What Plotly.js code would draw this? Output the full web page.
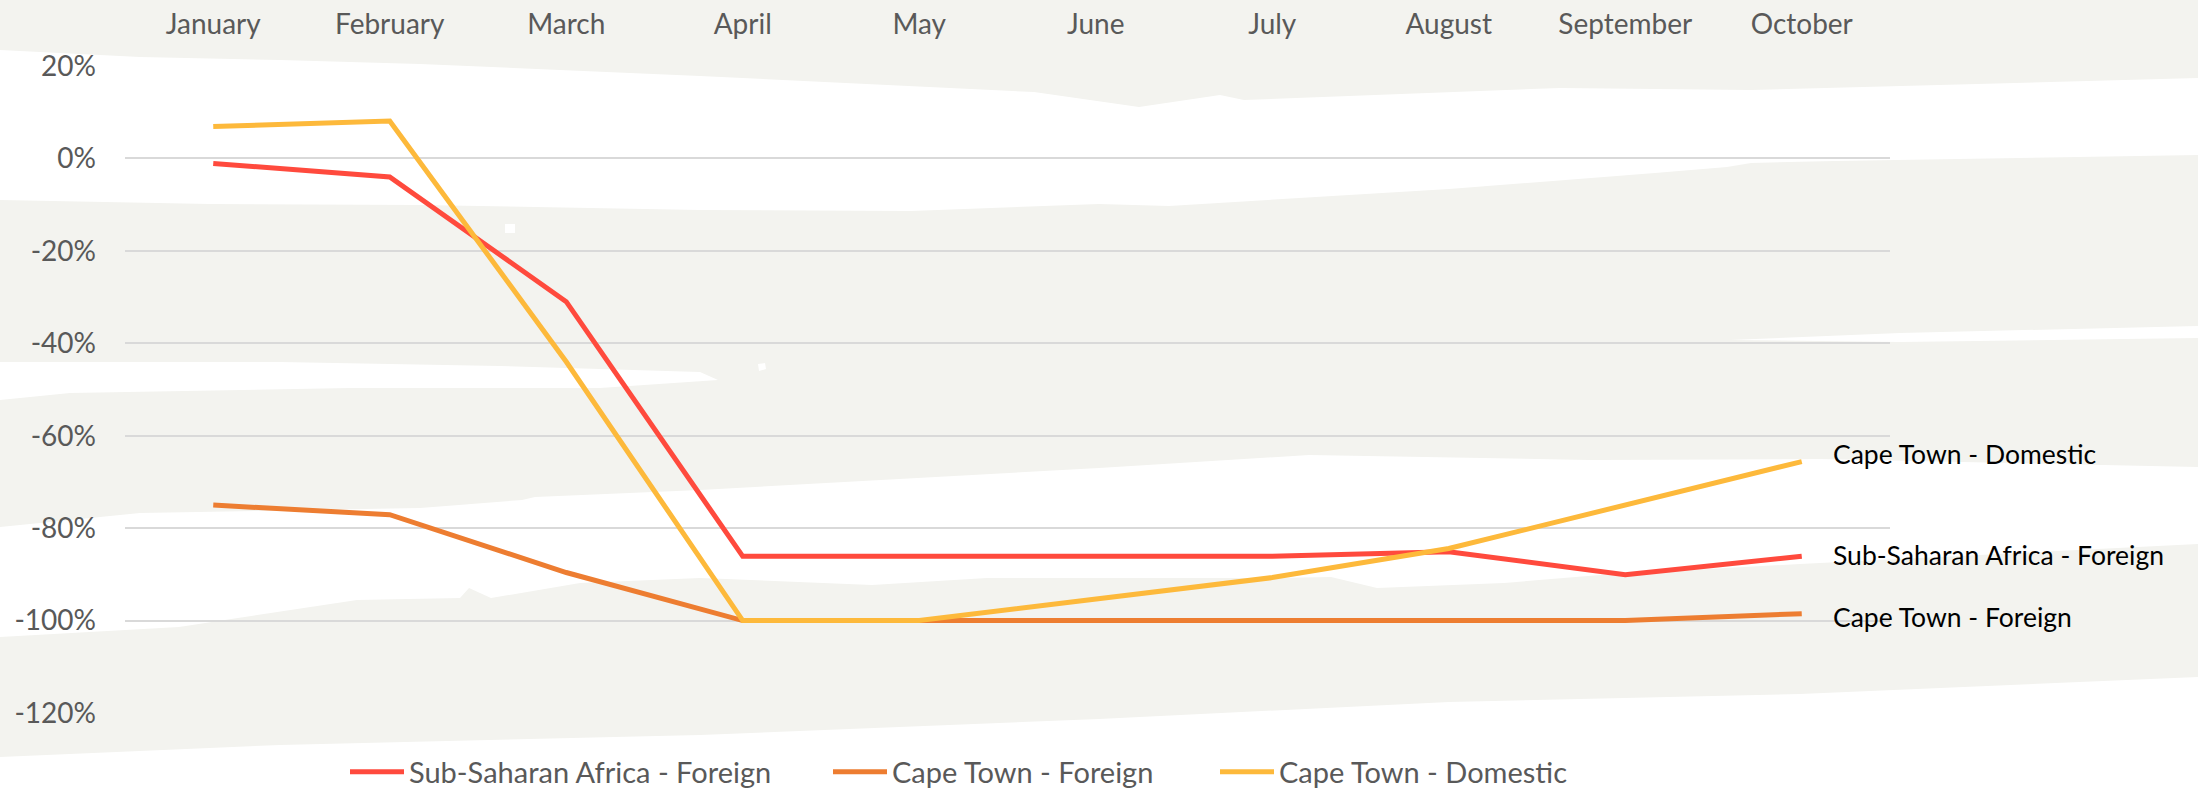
<!DOCTYPE html>
<html><head><meta charset="utf-8">
<script src="https://cdn.plot.ly/plotly-3.0.1.min.js"></script>
<style>html,body{margin:0;padding:0;background:#fff}#chart{width:2198px;height:789px}</style>
</head><body><div id="chart"></div>
<script>
// ---- data ----
const months = ['January','February','March','April','May','June','July','August','September','October'];
const ssaForeign = [-1.1, -4.0, -31.0, -86.1, -86.1, -86.1, -86.1, -85.1, -90.1, -86.1];
const ctForeign  = [-75.0, -77.1, -89.6, -100, -100, -100, -100, -100, -100, -98.5];
const ctDomestic = [6.9, 8.1, -44.0, -100, -100, -95.3, -90.7, -84.4, -75.0, -65.6];
const seriesNames = ['Sub-Saharan Africa - Foreign', 'Cape Town - Foreign', 'Cape Town - Domestic'];
const yTickVals = [20, 0, -20, -40, -60, -80, -100, -120];
const yTickText = ['20%', '0%', '-20%', '-40%', '-60%', '-80%', '-100%', '-120%'];

// ---- style ----
const W = 2198, H = 789;
const M = {l: 125, r: 308, t: 66, b: 76};
const PW = W - M.l - M.r, PH = H - M.t - M.b;
const colors = ['#FF4A3D', '#ED7D31', '#FDB93B'];
const FONT = 'Lato, "Open Sans", sans-serif';
const GRAY = '#F3F3EF';

function px2paper(pts) {
  return 'M' + pts.map(p => ((p[0] - M.l) / PW).toFixed(5) + ',' + ((H - M.b - p[1]) / PH).toFixed(5)).join('L') + 'Z';
}
// decorative brush-stroke background bands (pixel outlines)
const bandG1 = [[0,0],[2198,0],[2198,78],[1751,90],[1560,88],[1244,100],[1220,95],[1139,107],[1034,92],[700,76],[560,70],[420,64],[280,60],[140,57],[0,50]];
const bandG23 = [[0,200],[210,204],[420,205],[700,210],[911,211],[1099,204],[1169,206],[1449,189],[1655,173],[1727,167],[1751,163],[1835,161],[2198,155],
                 [2198,467],[1820,459],[1590,460],[1309,455],[1099,468],[700,490],[535,497],[522,500],[420,508],[140,513],[0,527]];
const whiteA = [[0,362],[280,362],[500,366],[700,372],[718,380],[600,388],[350,388],[70,393],[0,400]];
const whiteB = [[1730,340],[1900,333],[2198,326],[2198,338],[1900,342]];
const speck1 = [[505,224],[515,224],[515,233],[505,233]];
const speck2 = [[758,364],[765,363],[766,369],[759,371]];
const bandG4 = [[0,637],[179,627],[357,600],[460,598],[469,588],[491,598],[580,583],[700,578],[872,585],[987,578],[1274,578],[1331,577],[1377,588],[1504,583],[1600,575],[1800,564],[2198,544],
                [2198,677],[1800,694],[1449,702],[1099,719],[700,735],[280,745],[0,757]];

const bgShapes = [
  {poly: bandG1, c: GRAY}, {poly: bandG23, c: GRAY}, {poly: whiteA, c: '#FFFFFF'},
  {poly: whiteB, c: '#FFFFFF'}, {poly: speck1, c: '#FFFFFF'}, {poly: speck2, c: '#FFFFFF'},
  {poly: bandG4, c: GRAY}
].map(s => ({type: 'path', xref: 'paper', yref: 'paper', layer: 'below', path: px2paper(s.poly),
             fillcolor: s.c, line: {width: 0}}));

const legendIds = ['legend', 'legend2', 'legend3'];
const legendStartPx = [345, 828, 1215];

const seriesData = [ssaForeign, ctForeign, ctDomestic];
const traces = seriesData.map((vals, i) => ({
  type: 'scatter', mode: 'lines', x: months, y: vals, name: seriesNames[i], legend: legendIds[i],
  line: {color: colors[i], width: 5}, hoverinfo: 'skip'
}));

const labelShift = [1, -3, 8];
const annotations = seriesData.map((vals, i) => ({
  x: months[months.length - 1], y: vals[vals.length - 1], xref: 'x', yref: 'y',
  text: seriesNames[i], showarrow: false, xanchor: 'left', yanchor: 'middle',
  xshift: 29, yshift: labelShift[i], font: {family: FONT, size: 26.5, color: '#000000'}
}));

const layout = {
  width: W, height: H, margin: M,
  paper_bgcolor: '#FFFFFF', plot_bgcolor: 'rgba(0,0,0,0)',
  showlegend: true,
  xaxis: {type: 'category', side: 'top', range: [-0.5, 9.5], showgrid: false, zeroline: false, showline: false,
          ticks: '', tickfont: {family: FONT, size: 28, color: '#595959'}, ticklabelstandoff: 25, fixedrange: true},
  yaxis: {range: [-120, 20], tickvals: yTickVals, ticktext: yTickText, showgrid: true, gridcolor: '#D9D9D9', gridwidth: 2,
          zeroline: false, showline: false, ticks: '', tickfont: {family: FONT, size: 28, color: '#595959'},
          ticklabelstandoff: 28, fixedrange: true},
  shapes: bgShapes,
  annotations: annotations
};
legendIds.forEach((id, i) => {
  layout[id] = {orientation: 'h', xref: 'container', yref: 'container',
                x: legendStartPx[i] / W, xanchor: 'left', y: (H - 772) / H, yanchor: 'middle',
                font: {family: FONT, size: 29, color: '#595959'}, bgcolor: 'rgba(0,0,0,0)', itemwidth: 54};
});

Plotly.newPlot('chart', traces, layout, {displayModeBar: false, staticPlot: true});
</script>
</body></html>
